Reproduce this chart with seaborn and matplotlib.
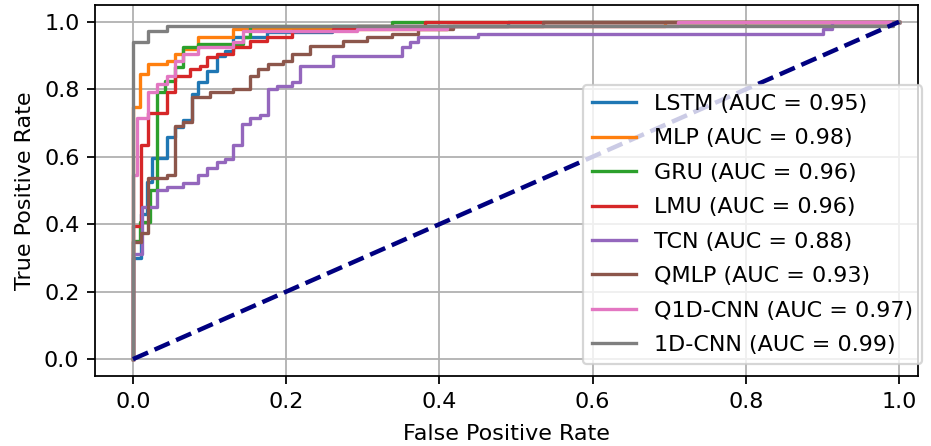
import numpy as np
import pandas as pd
import matplotlib
matplotlib.use("Agg")
import matplotlib.pyplot as plt
import seaborn as sns

plt.rcdefaults()
plt.rcParams['font.family'] = ['DejaVu Sans']

# Each model: FPR positions where the TPR jumps, and the TPR level after each jump
models = ["LSTM", "MLP", "GRU", "LMU", "TCN", "QMLP", "Q1D-CNN", "1D-CNN"]
aucs = [0.95, 0.98, 0.96, 0.96, 0.88, 0.93, 0.97, 0.99]

lstm_fpr = [0, 0.0104, 0.0183, 0.0248, 0.0444, 0.0548, 0.0653, 0.0770, 0.0849, 0.0966, 0.1097, 0.1201, 0.1305,
            0.175, 0.26, 0.49]
lstm_tpr = [0.299, 0.430, 0.525, 0.597, 0.660, 0.687, 0.710, 0.785, 0.821, 0.854, 0.899, 0.913, 0.955,
            0.970, 0.988, 1.0]

mlp_fpr = [0, 0.0026, 0.0091, 0.0196, 0.0444, 0.0548, 0.0653, 0.0849, 0.1305, 0.41, 0.694]
mlp_tpr = [0.749, 0.749, 0.845, 0.875, 0.884, 0.904, 0.919, 0.955, 0.979, 0.988, 1.0]

gru_fpr = [0, 0.0091, 0.0222, 0.0313, 0.0418, 0.0548, 0.0653, 0.0849, 0.1436, 0.1527, 0.3381]
gru_tpr = [0.35, 0.406, 0.501, 0.791, 0.824, 0.866, 0.925, 0.934, 0.955, 0.988, 1.0]

lmu_fpr = [0, 0.0104, 0.0196, 0.0444, 0.0548, 0.0744, 0.0875, 0.0966, 0.1097, 0.1305, 0.1527, 0.1749, 0.2076,
           0.2611, 0.2924, 0.3812]
lmu_tpr = [0.394, 0.636, 0.731, 0.791, 0.840, 0.860, 0.869, 0.896, 0.904, 0.925, 0.943, 0.955, 0.973,
           0.979, 0.988, 1.0]

tcn_fpr = [0, 0.0117, 0.0313, 0.0444, 0.0653, 0.0849, 0.0966, 0.1097, 0.1201, 0.1305, 0.1423, 0.1527, 0.1658, 0.1762,
           0.188, 0.2076, 0.218, 0.261, 0.351, 0.3616, 0.372, 0.45, 0.901, 0.9125]
tcn_tpr = [0.313, 0.451, 0.501, 0.510, 0.522, 0.546, 0.567, 0.585, 0.594, 0.636, 0.696, 0.716, 0.725, 0.800,
           0.809, 0.821, 0.869, 0.899, 0.925, 0.940, 0.955, 0.964, 0.979, 1.0]

qmlp_fpr = [0, 0.0104, 0.0196, 0.0444, 0.0548, 0.0653, 0.0770, 0.1005, 0.1305, 0.1527, 0.1632, 0.1762, 0.1958,
            0.2076, 0.2311, 0.2742, 0.3055, 0.3381, 0.3721, 0.4178, 0.5352]
qmlp_tpr = [0.346, 0.373, 0.537, 0.546, 0.690, 0.704, 0.776, 0.791, 0.800, 0.839, 0.860, 0.875, 0.884,
            0.904, 0.928, 0.943, 0.955, 0.964, 0.979, 0.988, 1.0]

q1d_fpr = [0, 0.0052, 0.0196, 0.0313, 0.0444, 0.0548, 0.0653, 0.0849, 0.1305, 0.1436, 0.2924, 0.4099, 0.7115]
q1d_tpr = [0.546, 0.716, 0.791, 0.815, 0.840, 0.884, 0.904, 0.925, 0.940, 0.973, 0.979, 0.988, 1.0]

cnn_fpr = [0, 0.0196, 0.0444, 0.9922]
cnn_tpr = [0.940, 0.973, 0.988, 1.0]

series_fpr = [lstm_fpr, mlp_fpr, gru_fpr, lmu_fpr, tcn_fpr, qmlp_fpr, q1d_fpr, cnn_fpr]
series_tpr = [lstm_tpr, mlp_tpr, gru_tpr, lmu_tpr, tcn_tpr, qmlp_tpr, q1d_tpr, cnn_tpr]
colors = ["tab:blue", "tab:orange", "tab:green", "tab:red", "tab:purple", "tab:brown", "tab:pink", "tab:gray"]


def staircase(fpr, tpr):
    xs, ys = [0.0], [0.0]
    prev = 0.0
    for x, y in zip(fpr, tpr):
        xs += [x, x]
        ys += [prev, y]
        prev = y
    xs.append(1.0)
    ys.append(prev)
    return xs, ys


DPI = 160
fig = plt.figure(figsize=(931 / DPI, 446 / DPI), dpi=DPI)
ax = fig.add_axes([95 / 931, 70 / 446, 823 / 931, 371 / 446])

for name, auc, f, t, c in zip(models, aucs, series_fpr, series_tpr, colors):
    xs, ys = staircase(f, t)
    df = pd.DataFrame({"fpr": xs, "tpr": ys})
    sns.lineplot(data=df, x="fpr", y="tpr", estimator=None, sort=False, color=c, lw=1.5,
                 label=f"{name} (AUC = {auc:.2f})", ax=ax)

diag = pd.DataFrame({"fpr": [0, 1], "tpr": [0, 1]})
sns.lineplot(data=diag, x="fpr", y="tpr", estimator=None, sort=False, color="navy", lw=2,
             linestyle="--", ax=ax)

ax.set_xlim(-0.0496, 1.0248)
ax.set_ylim(-0.05, 1.05)
ax.set_xticks([0, 0.2, 0.4, 0.6, 0.8, 1.0])
ax.set_yticks([0, 0.2, 0.4, 0.6, 0.8, 1.0])
ax.set_xlabel("False Positive Rate", labelpad=5.5)
ax.set_ylabel("True Positive Rate")
ax.grid(True)
ax.legend(loc="lower right", bbox_to_anchor=((922 - 95) / 823, 12 / 371), borderaxespad=0,
          labelspacing=0.65, handlelength=2.0)

fig.savefig("out.png", dpi=DPI)
